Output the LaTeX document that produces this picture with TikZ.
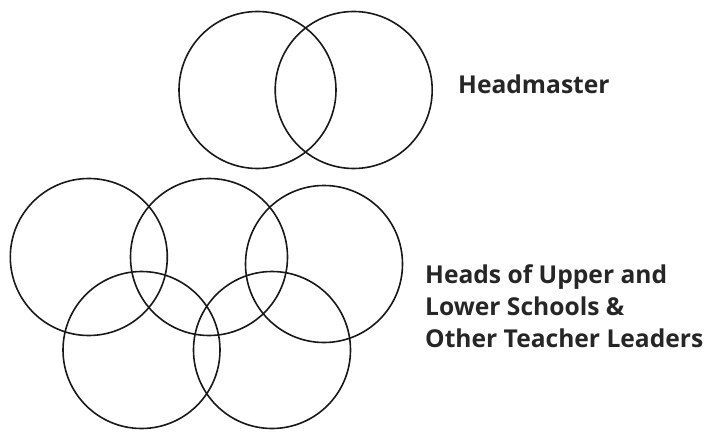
\documentclass[tikz,border=0pt]{standalone}
\usepackage{fontspec}
\setmainfont{Open Sans}
\usetikzlibrary{positioning}
\tikzset{
  ring/.style={circle,draw=black!90,line width=1.6pt,minimum size=157pt,inner sep=0pt},
  caption/.style={font=\fontsize{24.6}{32.3}\selectfont\bfseries,text=black!85,inner sep=0pt,align=left}
}
\begin{document}
\begin{tikzpicture}[x=1pt,y=-1pt]
  \useasboundingbox (0,0) rectangle (709,433);
  % top pair
  \node[ring] (head1) at (257.5,90) {};
  \node[ring] (head2) at (353.7,90) {};
  % lower group
  \node[ring] (lead1) at (88.8,257) {};
  \node[ring] (lead2) at (209,257) {};
  \node[ring] (lead3) at (324,264) {};
  \node[ring] (lead4) at (141.5,350) {};
  \node[ring] (lead5) at (272,350) {};

  \node[caption,anchor=base west] (headlabel) at (458,94) {Headmaster};
  \node[caption,anchor=base west] (leadlabel) at (425,347.7) {Heads of Upper and\\Lower Schools \&\\Other Teacher Leaders};
\end{tikzpicture}
\end{document}
